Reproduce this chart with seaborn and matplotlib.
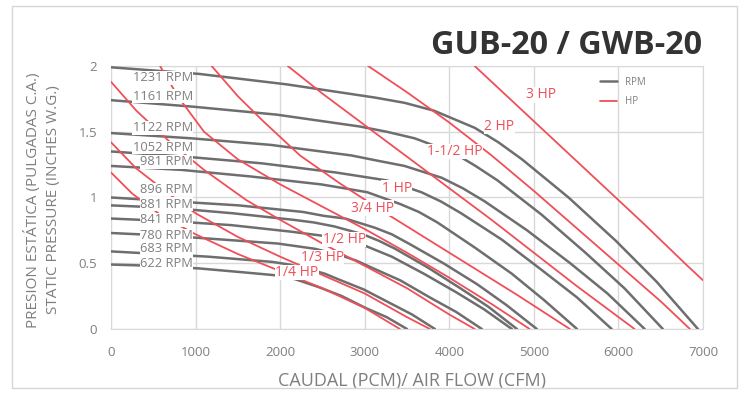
import matplotlib
matplotlib.use("Agg")
import matplotlib.pyplot as plt
from matplotlib.lines import Line2D
from matplotlib.patches import Rectangle
import seaborn as sns

# ─────────────────────────────────────────────
#  DATA — fan curves
#  x = air flow (CFM), y = static pressure (in. W.G.)
# ─────────────────────────────────────────────
rpm_1231_cfm = [0, 1040, 2080, 3120, 3470, 3820, 4300, 4580, 4860, 5410, 5970, 6450, 6940]
rpm_1231_sp = [1.99, 1.94, 1.86, 1.76, 1.72, 1.66, 1.53, 1.42, 1.29, 1.00, 0.67, 0.36, 0]
rpm_1161_cfm = [0, 980, 1960, 2940, 3260, 3590, 4050, 4310, 4570, 5090, 5610, 6070, 6525]
rpm_1161_sp = [1.74, 1.69, 1.63, 1.54, 1.50, 1.45, 1.34, 1.24, 1.13, 0.87, 0.58, 0.31, 0]
rpm_1122_cfm = [0, 950, 1890, 2840, 3150, 3470, 3910, 4160, 4420, 4920, 5430, 5870, 6310]
rpm_1122_sp = [1.49, 1.45, 1.40, 1.32, 1.28, 1.24, 1.15, 1.07, 0.97, 0.75, 0.50, 0.27, 0]
rpm_1052_cfm = [0, 890, 1780, 2660, 2960, 3260, 3670, 3900, 4140, 4620, 5090, 5510, 5920]
rpm_1052_sp = [1.35, 1.31, 1.26, 1.19, 1.16, 1.13, 1.04, 0.97, 0.88, 0.68, 0.45, 0.24, 0]
rpm_981_cfm = [0, 830, 1650, 2480, 2760, 3030, 3420, 3640, 3860, 4300, 4740, 5120, 5510]
rpm_981_sp = [1.24, 1.21, 1.16, 1.10, 1.07, 1.04, 0.95, 0.89, 0.81, 0.62, 0.42, 0.22, 0]
rpm_896_cfm = [0, 760, 1510, 2270, 2520, 2770, 3120, 3320, 3520, 3930, 4330, 4680, 5035]
rpm_896_sp = [1.00, 0.97, 0.94, 0.89, 0.86, 0.84, 0.77, 0.72, 0.65, 0.50, 0.34, 0.18, 0]
rpm_881_cfm = [0, 720, 1440, 2160, 2400, 2640, 2980, 3170, 3360, 3740, 4130, 4460, 4800]
rpm_881_sp = [0.94, 0.92, 0.88, 0.83, 0.81, 0.78, 0.72, 0.67, 0.61, 0.47, 0.31, 0.17, 0]
rpm_841_cfm = [0, 710, 1420, 2130, 2370, 2610, 2940, 3130, 3320, 3700, 4080, 4410, 4740]
rpm_841_sp = [0.84, 0.82, 0.79, 0.74, 0.72, 0.70, 0.65, 0.60, 0.55, 0.42, 0.28, 0.15, 0]
rpm_780_cfm = [0, 660, 1320, 1970, 2190, 2410, 2720, 2900, 3070, 3420, 3770, 4080, 4385]
rpm_780_sp = [0.73, 0.71, 0.68, 0.65, 0.63, 0.61, 0.56, 0.52, 0.47, 0.37, 0.24, 0.13, 0]
rpm_683_cfm = [0, 570, 1150, 1720, 1910, 2110, 2370, 2530, 2680, 2990, 3290, 3560, 3830]
rpm_683_sp = [0.59, 0.57, 0.55, 0.52, 0.51, 0.49, 0.45, 0.42, 0.38, 0.30, 0.20, 0.11, 0]
rpm_622_cfm = [0, 520, 1050, 1580, 1750, 1920, 2170, 2310, 2450, 2730, 3010, 3260, 3500]
rpm_622_sp = [0.49, 0.48, 0.46, 0.43, 0.42, 0.41, 0.38, 0.35, 0.32, 0.25, 0.16, 0.09, 0]

# constant horsepower lines
hp_quarter_cfm = [0, 250, 600, 1000, 1500, 2000, 2500, 3000, 3416]
hp_quarter_sp = [1.19, 1.03, 0.86, 0.72, 0.57, 0.44, 0.31, 0.16, 0]
hp_third_cfm = [0, 300, 700, 1000, 1500, 2000, 2500, 3000, 3500, 3770]
hp_third_sp = [1.42, 1.22, 1.02, 0.88, 0.70, 0.55, 0.41, 0.27, 0.09, 0]
hp_half_cfm = [0, 300, 700, 1100, 1600, 2000, 2500, 3000, 3500, 4000, 4300]
hp_half_sp = [1.88, 1.66, 1.42, 1.21, 0.98, 0.83, 0.65, 0.48, 0.31, 0.11, 0]
hp_3q_cfm = [580, 800, 1100, 1500, 2000, 2500, 3000, 3500, 4000, 4500, 4950]
hp_3q_sp = [2.0, 1.76, 1.50, 1.29, 1.10, 0.93, 0.76, 0.58, 0.39, 0.19, 0]
hp_1_cfm = [1190, 1500, 1800, 2234, 2700, 3200, 3700, 4200, 4800, 5425]
hp_1_sp = [2.0, 1.77, 1.58, 1.32, 1.11, 0.90, 0.70, 0.50, 0.26, 0]
hp_1h_cfm = [2090, 2500, 3000, 3500, 4000, 4500, 5000, 5500, 6190]
hp_1h_sp = [2.0, 1.79, 1.55, 1.31, 1.07, 0.83, 0.58, 0.33, 0]
hp_2_cfm = [3040, 3500, 4000, 4500, 5000, 5500, 6000, 6500, 6845]
hp_2_sp = [2.0, 1.80, 1.57, 1.32, 1.05, 0.77, 0.49, 0.21, 0]
hp_3_cfm = [4300, 4800, 5300, 5800, 6300, 6800, 7000]
hp_3_sp = [2.0, 1.70, 1.40, 1.10, 0.80, 0.49, 0.37]

rpm_names = ["1231 RPM", "1161 RPM", "1122 RPM", "1052 RPM", "981 RPM", "896 RPM",
             "881 RPM", "841 RPM", "780 RPM", "683 RPM", "622 RPM"]
hp_names = ["1/4 HP", "1/3 HP", "1/2 HP", "3/4 HP", "1 HP", "1-1/2 HP", "2 HP", "3 HP"]

rpm_curves = [
    (rpm_1231_cfm, rpm_1231_sp), (rpm_1161_cfm, rpm_1161_sp),
    (rpm_1122_cfm, rpm_1122_sp), (rpm_1052_cfm, rpm_1052_sp),
    (rpm_981_cfm, rpm_981_sp), (rpm_896_cfm, rpm_896_sp),
    (rpm_881_cfm, rpm_881_sp), (rpm_841_cfm, rpm_841_sp),
    (rpm_780_cfm, rpm_780_sp), (rpm_683_cfm, rpm_683_sp),
    (rpm_622_cfm, rpm_622_sp),
]
hp_curves = [
    (hp_quarter_cfm, hp_quarter_sp), (hp_third_cfm, hp_third_sp),
    (hp_half_cfm, hp_half_sp), (hp_3q_cfm, hp_3q_sp), (hp_1_cfm, hp_1_sp),
    (hp_1h_cfm, hp_1h_sp), (hp_2_cfm, hp_2_sp), (hp_3_cfm, hp_3_sp),
]

# label anchors (data coords) — where the text sits on the chart
rpm_label_y = [1.91, 1.77, 1.53, 1.38, 1.27, 1.06, 0.95, 0.83, 0.71, 0.61, 0.50]
hp_label_pos = [(2200, 0.43), (2500, 0.54), (2760, 0.68), (3090, 0.92),
                (3380, 1.07), (4070, 1.35), (4590, 1.54), (5080, 1.78)]

GRAY = "#6e6e6e"
RED = "#ef4f58"
TEXT = "#7f7f7f"

# ─────────────────────────────────────────────
#  PLOT
# ─────────────────────────────────────────────
sns.set_style("white")
plt.rcParams["font.family"] = ["Open Sans", "DejaVu Sans"]

fig = plt.figure(figsize=(7.43, 3.94), dpi=100)
ax = fig.add_axes([0.1494, 0.165, 0.7968, 0.6675])

for cfm, sp in rpm_curves:
    sns.lineplot(x=cfm, y=sp, ax=ax, color=GRAY, linewidth=1.8,
                 sort=False, estimator=None, zorder=3)
for cfm, sp in hp_curves:
    sns.lineplot(x=cfm, y=sp, ax=ax, color=RED, linewidth=1.3,
                 sort=False, estimator=None, zorder=4)

box = dict(facecolor="white", edgecolor="none", pad=0.3)
for name, y in zip(rpm_names, rpm_label_y):
    ax.text(970, y, name, ha="right", va="center", fontsize=9.3,
            color=TEXT, bbox=box, zorder=5)
for name, (x, y) in zip(hp_names, hp_label_pos):
    ax.text(x, y, name, ha="center", va="center", fontsize=10,
            color=RED, bbox=box, zorder=5)

ax.set_xlim(0, 7000)
ax.set_ylim(0, 2)
ax.set_xticks(range(0, 7001, 1000))
ax.set_yticks([0, 0.5, 1, 1.5, 2])
ax.set_yticklabels(["0", "0.5", "1", "1.5", "2"])
ax.grid(True, color="#d9d9d9", linewidth=1.0)
ax.set_axisbelow(True)
for s in ax.spines.values():
    s.set_color("#d9d9d9")
ax.tick_params(length=0, labelsize=9.5, labelcolor=TEXT)
ax.tick_params(axis="x", pad=12)
ax.tick_params(axis="y", pad=10)

ax.set_xlabel("CAUDAL (PCM)/ AIR FLOW (CFM)", fontsize=13, color=TEXT)
ax.xaxis.set_label_coords(0.508, -0.165)
ax.set_ylabel("PRESION ESTÁTICA (PULGADAS C.A.)\nSTATIC PRESSURE (INCHES W.G.)",
              fontsize=11, color=TEXT, linespacing=1.4)
ax.yaxis.set_label_coords(-0.085, 0.49)

handles = [Line2D([], [], color=GRAY, linewidth=1.8),
           Line2D([], [], color=RED, linewidth=1.3)]
ax.legend(handles, ["RPM", "HP"], loc="upper right", bbox_to_anchor=(0.915, 0.985),
          frameon=False, fontsize=7, labelcolor=TEXT, handlelength=1.8,
          borderpad=0.2, labelspacing=0.9)

fig.text(0.763, 0.885, "GUB-20 / GWB-20", ha="center", va="center",
         fontsize=23.3, fontweight="bold", color="#333333")

# light frame round the whole chart
fig.patches.append(Rectangle((12 / 743, 6 / 394), 725 / 743, 382 / 394,
                             transform=fig.transFigure, fill=False,
                             edgecolor="#d6d6d6", linewidth=1.0))

fig.savefig("out.png", dpi=100)
